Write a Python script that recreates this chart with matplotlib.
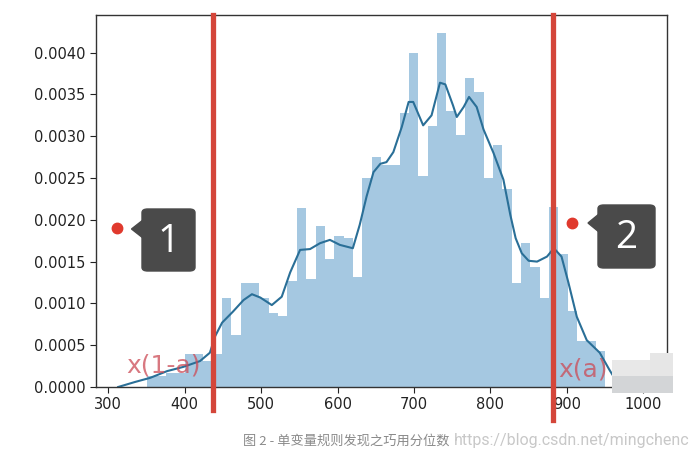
import numpy as np
import matplotlib.pyplot as plt
from matplotlib.patches import FancyBboxPatch, Polygon, Rectangle

bin_start = 339
bin_end = 950
densite = [0.0, 0.00013, 0.00013, 0.00017, 0.00017, 0.0004, 0.0004, 0.00031, 0.0004, 0.00107,
           0.00062, 0.00124, 0.00124, 0.00107, 0.00088, 0.00085, 0.00127, 0.00214, 0.00129, 0.00193,
           0.00153, 0.00181, 0.00178, 0.00131, 0.0025, 0.00275, 0.00266, 0.00266, 0.00328, 0.0040,
           0.00252, 0.00312, 0.00423, 0.0033, 0.00302, 0.0037, 0.00353, 0.0025, 0.0029, 0.00237,
           0.00124, 0.00172, 0.00143, 0.00106, 0.00215, 0.00159, 0.00091, 0.00055, 0.00055, 0.00043]

# courbe kde (points relevés)
kde_x = [313, 335, 355, 377, 398, 420, 433, 440, 449, 463, 477, 488, 499, 514, 527, 538, 551,
         564, 577, 590, 603, 620, 629, 638, 647, 656, 664, 673, 684, 693, 699, 712, 723, 734,
         741, 751, 756, 765, 772, 782, 791, 804, 817, 826, 833, 841, 850, 861, 874, 883, 893,
         902, 913, 926, 943, 956, 969]
kde_y = [0.0, 0.00006, 0.00011, 0.00019, 0.00024, 0.00031, 0.00041, 0.00061, 0.00077, 0.0009,
         0.00104, 0.00111, 0.00107, 0.00098, 0.00108, 0.00137, 0.00164, 0.00165, 0.00172, 0.00176,
         0.0017, 0.00166, 0.00194, 0.00228, 0.00257, 0.00267, 0.00269, 0.00281, 0.00311, 0.00341,
         0.00341, 0.00313, 0.00325, 0.00364, 0.00362, 0.00337, 0.00323, 0.00335, 0.00347, 0.00335,
         0.00308, 0.0028, 0.00248, 0.00206, 0.00178, 0.0016, 0.00151, 0.0015, 0.00156, 0.00166,
         0.00156, 0.00125, 0.00084, 0.00056, 0.00041, 0.0002, 0.00001]

# quantiles x(1-a) et x(a)
quantiles = [437, 882]
quantile_labels = ["x(1-a)", "x(a)"]

# points hors norme
point_x = [311, 907]
point_y = [0.0019, 0.00196]
point_labels = ["1", "2"]

x_ticks = [300, 400, 500, 600, 700, 800, 900, 1000]
y_ticks = [0.0, 0.0005, 0.001, 0.0015, 0.002, 0.0025, 0.003, 0.0035, 0.004]

W, H = 697, 458


def fig_xy(x, y):
    # pixels de la capture (origine en haut a gauche) -> coordonnees figure
    return x / W, 1 - y / H


def fig_rect(x0, y0, x1, y1, color, z):
    r = Rectangle(fig_xy(x0, y1), (x1 - x0) / W, (y1 - y0) / H, transform=fig.transFigure,
                  color=color, lw=0, zorder=z)
    fig.patches.append(r)


fig = plt.figure(figsize=(W / 100, H / 100), dpi=100)
ax = fig.add_axes([96 / W, 1 - 387 / H, (667 - 96) / W, (387 - 15) / H])

edges = np.linspace(bin_start, bin_end, len(densite) + 1)
ax.bar(edges[:-1], densite, width=np.diff(edges), align="edge", color="C0", alpha=0.4, linewidth=0)
ax.plot(kde_x, kde_y, color="#2a6f97", lw=1.5)

ax.set_xlim(284, 1031)
ax.set_ylim(0, 0.00445)
ax.set_xticks(x_ticks)
ax.set_yticks(y_ticks)
ax.set_yticklabels([f"{v:.4f}" for v in y_ticks])
ax.tick_params(labelsize=10.5, colors="#222222", length=4)
for s in ax.spines.values():
    s.set_color("#333333")
    s.set_linewidth(1)

# lignes rouges des quantiles (debordent sous l'axe)
for q, low in zip(quantiles, [-0.062, -0.09]):
    ax.axvline(q, ymin=low, ymax=1.0, color="#d4463a", lw=3.8, clip_on=False, zorder=5)

ax.text(324, 0.00026, quantile_labels[0], color="#cc4b56", alpha=0.75, fontsize=18, va="center", zorder=6)
ax.text(889, 0.00021, quantile_labels[1], color="#cc4b56", alpha=0.75, fontsize=18, va="center", zorder=6)

# tache grise du filigrane
fig_rect(612, 360, 650, 376, "#e8e8e8", 7)
fig_rect(650, 353, 673, 376, "#e6e6e6", 7)
fig_rect(612, 376, 673, 393, "#d3d5d7", 7)

ax.plot(point_x, point_y, "o", color="#e0392d", ms=7.5, zorder=8, clip_on=False)

# bulles "1" et "2"
boxes = [(142, 209, 195, 271, 131.5, 229), (598, 205, 655, 268, 588, 223)]
for (x0, y0, x1, y1, tx, ty), lab in zip(boxes, point_labels):
    r = FancyBboxPatch(fig_xy(x0, y1), (x1 - x0) / W, (y1 - y0) / H,
                       boxstyle="round,pad=0,rounding_size=0.008",
                       transform=fig.transFigure, color="#4a4a4a", zorder=9)
    fig.patches.append(r)
    tri = Polygon([fig_xy(tx, ty), fig_xy(x0 + 1, ty - 9), fig_xy(x0 + 1, ty + 9)],
                  closed=True, transform=fig.transFigure, color="#4a4a4a", zorder=9)
    fig.patches.append(tri)
    cx, cy = fig_xy((x0 + x1) / 2, (y0 + y1) / 2 + 2)
    fig.text(cx, cy, lab, color="white", fontsize=28, ha="center", va="center",
             family="Open Sans", zorder=10)

fig.text(*fig_xy(346, 441), "图 2 - 单变量规则发现之巧用分位数", color="#8a8a8a", fontsize=9.5,
         ha="center", va="center", family=["Noto Sans CJK SC", "DejaVu Sans"])
fig.text(*fig_xy(572, 441), "https://blog.csdn.net/mingchenc", color="#c8c8c8", fontsize=11.5,
         ha="center", va="center", family="Roboto")

fig.savefig("out.png", dpi=100)
